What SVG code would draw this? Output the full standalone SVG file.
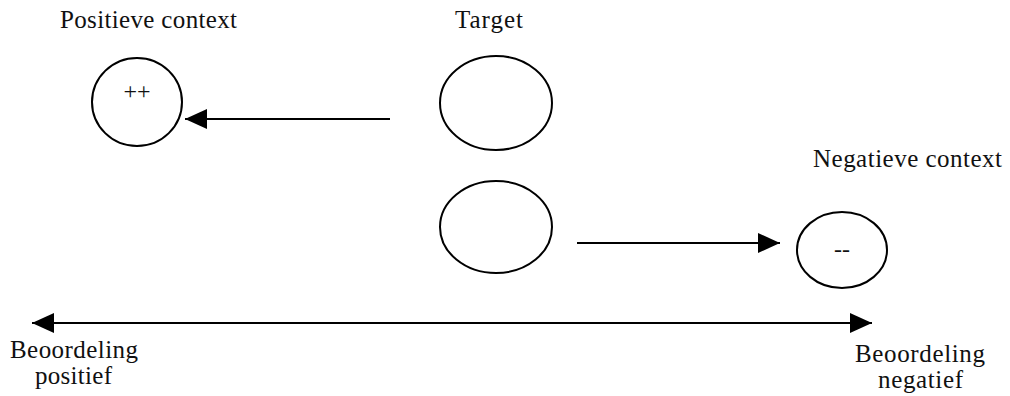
<svg xmlns="http://www.w3.org/2000/svg" width="1010" height="396" viewBox="0 0 1010 396">
  <style>
    .node { fill: none; stroke: #000; stroke-width: 2; }
    .lbl { font-family: "Liberation Serif", "Times New Roman", serif; font-size: 25px; fill: #111; }
    .sign { font-family: "Liberation Serif", "Times New Roman", serif; font-size: 24px; fill: #111; text-anchor: middle; }
    .edge { stroke: #000; stroke-width: 2; fill: none; }
  </style>
  <defs>
    <marker id="head" markerUnits="userSpaceOnUse" markerWidth="24" markerHeight="22" refX="22" refY="11" orient="auto-start-reverse">
      <path d="M0,1 L22,11 L0,21 Z" fill="#000"/>
    </marker>
  </defs>
  <rect width="1010" height="396" fill="#fff"/>

  <g id="positive-context">
    <text class="lbl" x="60" y="28" textLength="177" lengthAdjust="spacing">Positieve context</text>
    <ellipse class="node" cx="137" cy="102" rx="45" ry="44"/>
    <text class="sign" x="137" y="99">++</text>
  </g>

  <g id="target">
    <text class="lbl" x="455" y="28" textLength="68" lengthAdjust="spacing">Target</text>
    <ellipse class="node" cx="496" cy="103" rx="56" ry="47"/>
  </g>

  <g id="target-2">
    <ellipse class="node" cx="496" cy="227" rx="56" ry="46"/>
  </g>

  <g id="negative-context">
    <text class="lbl" x="813" y="167" textLength="189" lengthAdjust="spacing">Negatieve context</text>
    <ellipse class="node" cx="842" cy="250" rx="45" ry="38"/>
    <text class="sign" x="842" y="257" font-size="26">--</text>
  </g>

  <g id="pole-positive">
    <text class="lbl" x="10" y="358" textLength="128" lengthAdjust="spacing">Beoordeling</text>
    <text class="lbl" x="35" y="384" textLength="77" lengthAdjust="spacing">positief</text>
  </g>

  <g id="pole-negative">
    <text class="lbl" x="855" y="362" textLength="130" lengthAdjust="spacing">Beoordeling</text>
    <text class="lbl" x="878" y="388" textLength="85" lengthAdjust="spacing">negatief</text>
  </g>

  <g id="connectors">
    <line class="edge" x1="390" y1="119" x2="185" y2="119" marker-end="url(#head)"/>
    <line class="edge" x1="577" y1="243" x2="780" y2="243" marker-end="url(#head)"/>
    <line class="edge" x1="32" y1="323" x2="872" y2="323" marker-start="url(#head)" marker-end="url(#head)"/>
  </g>
</svg>
